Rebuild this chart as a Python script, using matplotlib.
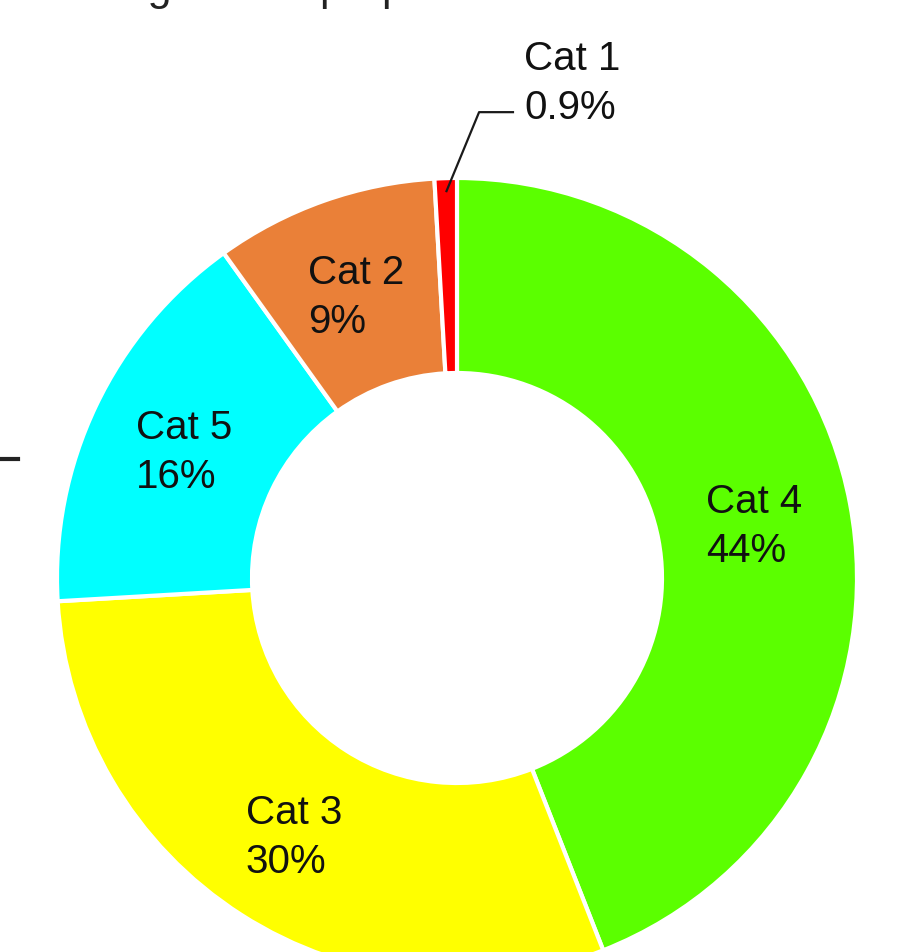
import numpy as np
import matplotlib.pyplot as plt

# slices, clockwise from 12 o'clock
cats = ["Cat 4", "Cat 3", "Cat 5", "Cat 2", "Cat 1"]
vals = [44, 30, 16, 9, 0.9]
pct_labels = ["44%", "30%", "16%", "9%", "0.9%"]
colors = ["#5BFF00", "#FFFF00", "#00FFFF", "#EA8038", "#FF0000"]

W, H = 897, 952
fig = plt.figure(figsize=(W / 100, H / 100), dpi=100)
ax = fig.add_axes([0, 0, 1, 1])

cx, cy, R, hole = 457, 374, 400, 205
font = ["Liberation Sans", "DejaVu Sans"]

wedges, _ = ax.pie(vals, colors=colors, startangle=90, counterclock=False,
                   center=(cx, cy), radius=R,
                   wedgeprops=dict(width=R - hole, edgecolor="white", linewidth=3))
ax.set_xlim(0, W)
ax.set_ylim(0, H)
ax.set_aspect("equal")
ax.axis("off")

for w, c, p in zip(wedges, cats, pct_labels):
    a = np.deg2rad((w.theta1 + w.theta2) / 2)
    if c == "Cat 1":
        # small slice -> label outside with a leader line
        x0 = cx + 0.965 * R * np.cos(a)
        y0 = cy + 0.965 * R * np.sin(a)
        ex, ey = x0 + 33, y0 + 80
        ax.plot([x0, ex, ex + 35], [y0, ey, ey], color="#1a1a1a", lw=1.6,
                solid_capstyle="butt")
        ax.text(ex + 45, ey + 29, c + "\n" + p, ha="left", va="center",
                fontsize=29, family=font, color="#111111", linespacing=1.37)
    else:
        r = (R + hole) / 2
        ax.text(cx + r * np.cos(a), cy + r * np.sin(a) - 5, c + "\n" + p,
                ha="center", va="center", multialignment="left",
                fontsize=29, family=font, color="#111111", linespacing=1.37)

# bits of neighbouring content cut off by the crop
ax.plot([0, 18], [H - 459, H - 459], color="#222222", lw=3)
fig.text(36 / W, 1.0, "Average costs proportion", ha="left",
         va="baseline", fontsize=31, family=font, color="#222222")

fig.savefig("out.png", dpi=100)
